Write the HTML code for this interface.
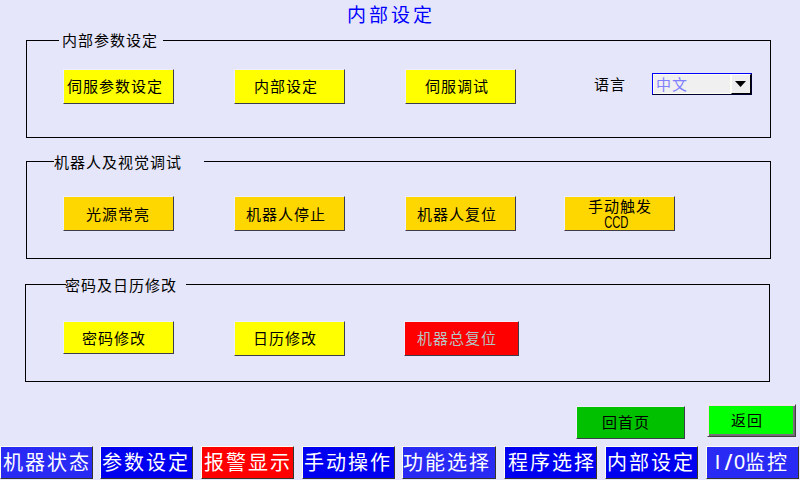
<!DOCTYPE html>
<html lang="zh-CN">
<head>
<meta charset="utf-8">
<title>内部设定</title>
<style>
*{margin:0;padding:0;box-sizing:border-box;}
html,body{width:800px;height:480px;overflow:hidden;}
body{background:#E6E6FA;font-family:"Liberation Sans",sans-serif;position:relative;color:#000;}
.a{position:absolute;}
.j{position:absolute;display:block;white-space:nowrap;text-align:justify;text-align-last:justify;}
.title{left:347px;top:4px;width:85.4px;font-size:19px;line-height:24px;color:#0000FF;}
.grp{position:absolute;border:1px solid #000;}
.lbl{position:absolute;top:-9px;height:18px;background:#E6E6FA;font-size:15px;line-height:18px;}
.btn{position:absolute;border-top:1px solid #EEEEFC;border-left:1px solid #EEEEFC;border-right:1px solid #3C3C4C;border-bottom:1px solid #3C3C4C;font-size:15px;line-height:18px;}
.y1{background:#FFFF00;}
.y2{background:#FFD700;}
.rd{background:#FF0000;color:#B4C4C4;}
.nav{position:absolute;top:446px;height:33px;width:93px;border-top:1px solid #FFFFF4;border-left:1px solid #FFFFF4;border-right:1px solid #343428;border-bottom:1px solid #343428;color:#fff;font-size:20px;line-height:24px;}
.nav .j{top:4px;width:86px;}
.hw{display:inline-block;width:8px;font-style:normal;text-align:center;transform:scaleX(0.7);}
.hw2{display:inline-block;width:11px;font-weight:normal;text-align:center;font-size:20px;position:relative;top:-1px;}
.nb{background:#0000F0;}
.nl{background:#2A2AF5;}
.nr{background:#FF0000;}
</style>
</head>
<body>
<div class="j title">内部设定</div>

<!-- group 1 -->
<div class="grp" style="left:26px;top:40px;width:745px;height:98px;">
  <div class="lbl" style="left:32px;width:104px;"><span class="j" style="left:3px;top:0;width:95px;">内部参数设定</span></div>
</div>
<div class="btn y1" style="left:63px;top:69px;width:111px;height:35px;"><span class="j" style="left:3px;top:8px;width:95px;">伺服参数设定</span></div>
<div class="btn y1" style="left:234px;top:69px;width:111px;height:35px;"><span class="j" style="left:18.5px;top:8px;width:63px;">内部设定</span></div>
<div class="btn y1" style="left:405px;top:69px;width:111px;height:35px;"><span class="j" style="left:19px;top:8px;width:63px;">伺服调试</span></div>
<span class="j" style="left:594px;top:76px;width:31px;font-size:15px;line-height:18px;">语言</span>
<!-- dropdown -->
<div class="a" style="left:652px;top:73px;width:100px;height:22px;border-top:1px solid #0000FF;border-left:1px solid #0000FF;border-right:1px solid #000030;border-bottom:1px solid #000030;background:#F0F0F0;">
  <div class="a" style="left:0;top:0;width:78px;height:20px;border:1px solid #FFFFF0;"></div>
  <span class="j" style="left:3px;top:2px;width:31px;font-size:15px;line-height:18px;color:#8080FF;">中文</span>
  <div class="a" style="left:78px;top:0;width:20px;height:20px;border-top:1px solid #FFFFFF;border-left:1px solid #FFFFFF;border-right:1px solid #000;border-bottom:1px solid #000;background:#EEEEEE;">
    <svg class="a" style="left:3px;top:6px;" width="11" height="7" viewBox="0 0 11 7"><path d="M0 0H11L5.5 6Z" fill="#000"/></svg>
  </div>
</div>

<!-- group 2 -->
<div class="grp" style="left:26px;top:161px;width:745px;height:98px;">
  <div class="lbl" style="left:27px;width:150px;"><span class="j" style="left:0;top:1px;width:127px;">机器人及视觉调试</span></div>
</div>
<div class="btn y2" style="left:63px;top:196px;width:111px;height:35px;"><span class="j" style="left:22px;top:9px;width:63px;">光源常亮</span></div>
<div class="btn y2" style="left:234px;top:196px;width:111px;height:35px;"><span class="j" style="left:10.5px;top:9px;width:79px;">机器人停止</span></div>
<div class="btn y2" style="left:405px;top:196px;width:111px;height:35px;"><span class="j" style="left:10.5px;top:9px;width:79px;">机器人复位</span></div>
<div class="btn y2" style="left:564px;top:196px;width:111px;height:35px;"><span class="j" style="left:23px;top:1px;width:63px;">手动触发</span><span class="a" style="left:37.5px;top:17px;white-space:nowrap;font-size:16px;"><i class="hw">C</i><i class="hw">C</i><i class="hw">D</i></span></div>

<!-- group 3 -->
<div class="grp" style="left:25px;top:284px;width:745px;height:98px;">
  <div class="lbl" style="left:40px;width:120px;"><span class="j" style="left:-1px;top:1px;width:111px;">密码及日历修改</span></div>
</div>
<div class="btn y1" style="left:63px;top:321px;width:111px;height:33px;"><span class="j" style="left:18px;top:8px;width:63px;">密码修改</span></div>
<div class="btn y1" style="left:234px;top:321px;width:111px;height:35px;"><span class="j" style="left:17.5px;top:8px;width:63px;">日历修改</span></div>
<div class="btn rd" style="left:404px;top:321px;width:115px;height:35px;"><span class="j" style="left:12px;top:8px;width:79px;">机器总复位</span></div>

<!-- bottom buttons -->
<div class="btn" style="left:576px;top:406px;width:109px;height:33px;background:#00C000;"><span class="j" style="left:25px;top:7px;width:47px;">回首页</span></div>
<div class="a" style="left:707px;top:404px;width:89px;height:33px;background:#00FF00;border-top:1px solid #ECECEC;border-left:1px solid #ECECEC;border-right:1px solid #404040;border-bottom:1px solid #404040;box-shadow:inset 1px 1px 0 #F2DAF2,inset -1px -1px 0 #6C6C6C,inset -2px -2px 0 #806C84;font-size:15px;line-height:18px;"><span class="j" style="left:23px;top:7px;width:31px;">返回</span></div>

<!-- nav -->
<div class="nav nl" style="left:0px;"><span class="j" style="left:1.5px;">机器状态</span></div>
<div class="nav nb" style="left:100px;"><span class="j" style="left:0.5px;">参数设定</span></div>
<div class="nav nr" style="left:201px;"><span class="j" style="left:2px;">报警显示</span></div>
<div class="nav nb" style="left:302px;"><span class="j" style="left:1px;">手动操作</span></div>
<div class="nav nl" style="left:402px;width:94px;"><span class="j" style="left:0px;">功能选择</span></div>
<div class="nav nb" style="left:504px;"><span class="j" style="left:2.5px;">程序选择</span></div>
<div class="nav nb" style="left:605px;"><span class="j" style="left:1px;">内部设定</span></div>
<div class="nav nl" style="left:706px;"><span class="a" style="left:5px;top:4px;white-space:nowrap;"><b class="hw2">I</b><b class="hw2" style="transform:scale(1.35,1.12);">/</b><b class="hw2">0</b><span class="j" style="position:relative;display:inline-block;vertical-align:top;top:0;width:42px;">监控</span></span></div>
</body>
</html>
